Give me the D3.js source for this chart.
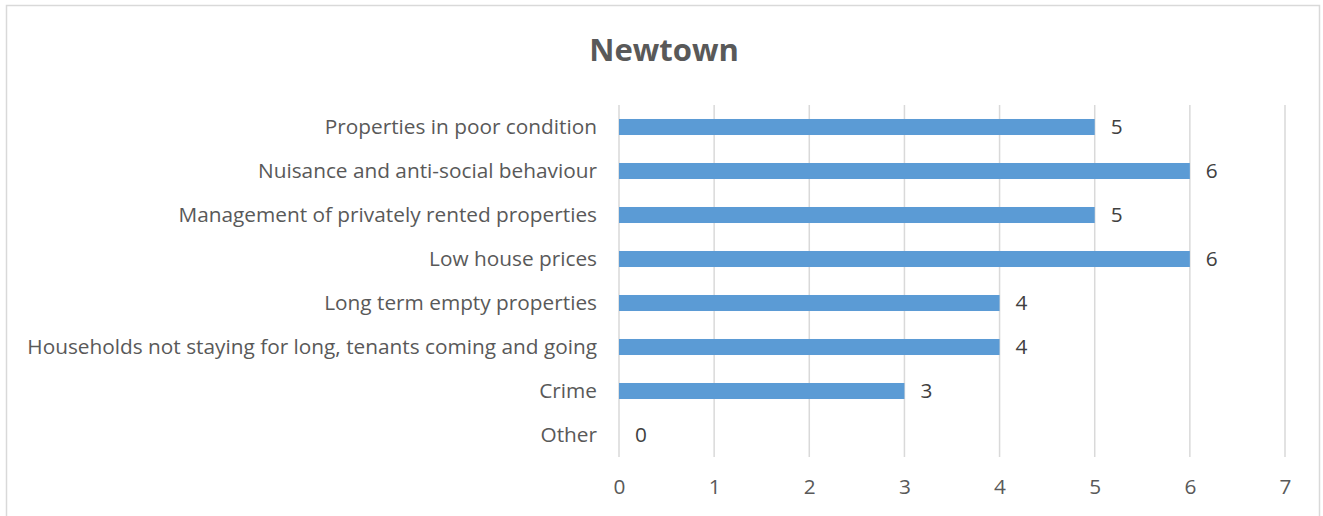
<!DOCTYPE html>
<html>
<head>
<meta charset="utf-8">
<script src="https://cdn.jsdelivr.net/npm/d3@7"></script>
<style>
  html, body { margin: 0; padding: 0; background: #fff; }
  svg { display: block; }
</style>
</head>
<body>
<svg id="chart" width="1323" height="516"></svg>
<script>
// Reasons reported for Newtown, listed top to bottom
const categories = [
  "Properties in poor condition",
  "Nuisance and anti-social behaviour",
  "Management of privately rented properties",
  "Low house prices",
  "Long term empty properties",
  "Households not staying for long, tenants coming and going",
  "Crime",
  "Other"
];
const values = [5, 6, 5, 6, 4, 4, 3, 0];
const tickValues = [0, 1, 2, 3, 4, 5, 6, 7];
const chartTitle = "Newtown";

const font = "Open Sans, Liberation Sans, sans-serif";
const textColor = "#595959";
const barColor = "#5B9BD5";
const gridColor = "#D9D9D9";
const labelSize = 20.8;

const svg = d3.select("#chart");

// outer chart border
svg.append("rect")
  .attr("x", 6.5).attr("y", 5.5)
  .attr("width", 1313).attr("height", 520)
  .attr("fill", "#fff")
  .attr("stroke", "#D9D9D9")
  .attr("stroke-width", 1.5);

const plot = { left: 619, right: 1285, top: 105, bottom: 457 };

const x = d3.scaleLinear().domain([0, 7]).range([plot.left, plot.right]);
const y = d3.scaleBand().domain(categories)
  .range([plot.top, plot.bottom])
  .paddingInner(0.636).paddingOuter(0.318);

// vertical gridlines
svg.append("g")
  .selectAll("line")
  .data(tickValues)
  .join("line")
  .attr("x1", d => x(d)).attr("x2", d => x(d))
  .attr("y1", plot.top).attr("y2", plot.bottom)
  .attr("stroke", gridColor)
  .attr("stroke-width", 1.5);

// bars
svg.append("g")
  .selectAll("rect")
  .data(values)
  .join("rect")
  .attr("x", x(0))
  .attr("y", (d, i) => y(categories[i]))
  .attr("width", d => x(d) - x(0))
  .attr("height", y.bandwidth())
  .attr("fill", barColor);

// value labels
svg.append("g")
  .selectAll("text")
  .data(values)
  .join("text")
  .attr("x", d => x(d) + 16)
  .attr("y", (d, i) => y(categories[i]) + y.bandwidth() / 2)
  .attr("dy", "0.36em")
  .attr("font-family", font)
  .attr("font-size", labelSize)
  .attr("fill", "#404040")
  .text(d => d);

// category axis labels
const yAxis = d3.axisLeft(y).tickSize(0).tickPadding(22);
const yg = svg.append("g")
  .attr("transform", `translate(${plot.left},0)`)
  .call(yAxis);
yg.select(".domain").remove();
yg.selectAll("text")
  .attr("font-family", font)
  .attr("font-size", labelSize)
  .attr("fill", textColor);

// value axis tick labels
const xAxis = d3.axisBottom(x).tickValues(tickValues).tickFormat(d3.format("d"))
  .tickSize(0).tickPadding(22);
const xg = svg.append("g")
  .attr("transform", `translate(0,${plot.bottom})`)
  .call(xAxis);
xg.select(".domain").remove();
xg.selectAll("text")
  .attr("font-family", font)
  .attr("font-size", labelSize)
  .attr("fill", textColor);

// title
svg.append("text")
  .attr("x", 664).attr("y", 61)
  .attr("text-anchor", "middle")
  .attr("font-family", font)
  .attr("font-weight", "bold")
  .attr("font-size", 31)
  .attr("fill", textColor)
  .text(chartTitle);
</script>
</body>
</html>
